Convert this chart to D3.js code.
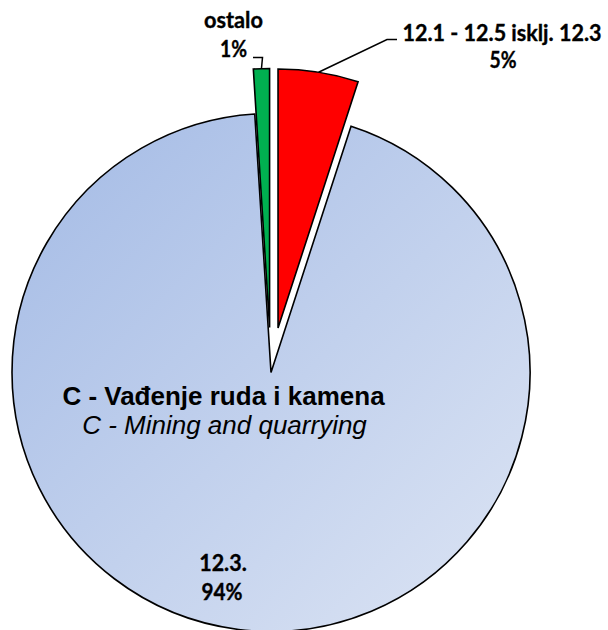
<!DOCTYPE html>
<html><head><meta charset="utf-8">
<script src="https://cdn.jsdelivr.net/npm/d3@7"></script>
<style>body{margin:0;background:#fff}svg{display:block}</style>
</head><body><svg id="c" width="608" height="630"></svg>
<script>
// ---- data ----
const categories = ["12.1 - 12.5 isklj. 12.3", "12.3.", "ostalo"];
const values = [5.0, 94.0, 1.0];
const pctLabels = ["5%", "94%", "1%"];
const colors = ["#ff0000", "url(#bigGrad)", "#00b050"];
const exploded = [true, false, true];
const titleBold = "C - Vađenje ruda i kamena";
const titleItalic = "C - Mining and quarrying";

// ---- layout ----
const W = 608, H = 630;
const cx = 271, cy = 372.5, R = 259, explode = 45;
const svg = d3.select("#c");
const defs = svg.append("defs");
const g1 = defs.append("linearGradient").attr("id", "bigGrad")
  .attr("gradientUnits", "userSpaceOnUse")
  .attr("x1", -R).attr("y1", -R).attr("x2", R).attr("y2", R);
g1.append("stop").attr("offset", "0%").attr("stop-color", "#a3bae5");
g1.append("stop").attr("offset", "100%").attr("stop-color", "#dde5f4");

const pie = d3.pie().sort(null).value(d => d).startAngle(0).endAngle(2 * Math.PI);
const arcs = pie(values);
const arc = d3.arc().innerRadius(0).outerRadius(R);

function offset(a, i) {
  if (!exploded[i]) return [0, 0];
  const m = (a.startAngle + a.endAngle) / 2;
  return [explode * Math.sin(m), -explode * Math.cos(m)];
}

const slices = svg.append("g").attr("transform", `translate(${cx},${cy})`);
slices.selectAll("path").data(arcs).join("path")
  .attr("d", arc)
  .attr("transform", (d, i) => { const o = offset(d, i); return `translate(${o[0]},${o[1]})`; })
  .attr("fill", (d, i) => colors[i])
  .attr("stroke", "#000").attr("stroke-width", 1.6).attr("stroke-linejoin", "miter");

// outer arc midpoint for leaders
function midOuter(i) {
  const a = arcs[i], m = (a.startAngle + a.endAngle) / 2, o = offset(a, i);
  return [cx + o[0] + R * Math.sin(m), cy + o[1] - R * Math.cos(m)];
}

const lblFont = "Lato, 'Noto Sans', sans-serif";
function lbl(text, x, y, len) {
  svg.append("text").attr("x", x).attr("y", y).attr("text-anchor", "middle")
    .attr("font-family", lblFont).attr("font-weight", "bold").attr("font-size", 22)
    .attr("fill", "#000").attr("stroke", "#000").attr("stroke-width", 0.35)
    .attr("textLength", len).attr("lengthAdjust", "spacingAndGlyphs")
    .text(text);
}

// red slice label + leader
const pR = midOuter(0);
svg.append("path").attr("d", d3.line()([pR, [387, 39.5], [397, 39.5]]))
  .attr("fill", "none").attr("stroke", "#000").attr("stroke-width", 1.5);
lbl(categories[0], 502, 40.5, 199);
lbl(pctLabels[0], 503, 68, 27);

// green slice label + leader
const pG = midOuter(2);
svg.append("path").attr("d", d3.line()([pG, [262.5, 57.5], [253, 57.5]]))
  .attr("fill", "none").attr("stroke", "#000").attr("stroke-width", 1.5);
lbl(categories[2], 233.5, 28, 59);
lbl(pctLabels[2], 233.5, 56.5, 27);

// big slice label
lbl(categories[1], 223, 571, 47.5);
lbl(pctLabels[1], 222, 600, 41);

// title inside
svg.append("text").attr("x", 223.5).attr("y", 405).attr("text-anchor", "middle")
  .attr("font-family", "'Liberation Sans', Arial, sans-serif").attr("font-weight", "bold")
  .attr("font-size", 26).text(titleBold);
svg.append("text").attr("x", 224.5).attr("y", 434).attr("text-anchor", "middle")
  .attr("font-family", "'Liberation Sans', Arial, sans-serif").attr("font-style", "italic")
  .attr("font-size", 26).text(titleItalic);
</script></body></html>
